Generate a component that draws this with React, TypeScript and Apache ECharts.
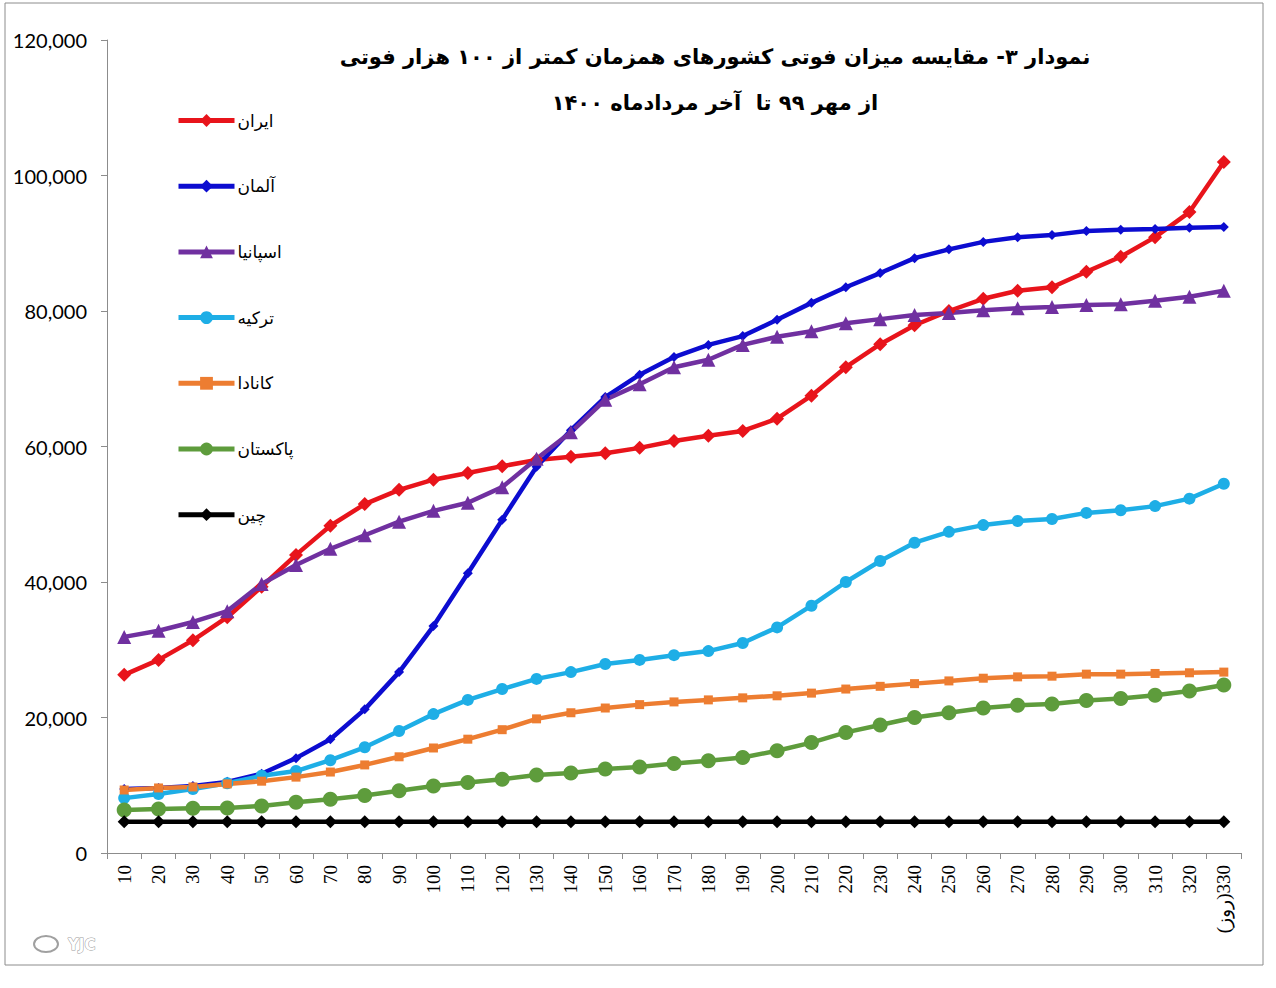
import React, { useEffect, useRef } from "react";
import * as echarts from "echarts";

const days = ["10","20","30","40","50","60","70","80","90","100","110","120","130","140","150","160","170","180","190","200","210","220","230","240","250","260","270","280","290","300","310","320","330"];

const iran = [26300,28500,31400,34800,39300,44000,48300,51500,53600,55100,56100,57100,58000,58500,59000,59800,60800,61600,62300,64100,67500,71700,75100,77900,80000,81800,83000,83500,85800,88000,90900,94600,102000];
const germany = [9450,9600,9900,10500,11700,14000,16800,21200,26700,33500,41300,49200,57000,62400,67300,70600,73200,75000,76300,78700,81200,83500,85600,87800,89100,90200,90900,91200,91800,92000,92100,92300,92400];
const spain = [31900,32800,34100,35700,39700,42500,44900,46900,48900,50500,51700,54000,58200,62100,66900,69200,71700,72800,75000,76200,77000,78200,78800,79400,79700,80100,80400,80600,80900,81000,81500,82100,83000];
const turkey = [8100,8700,9450,10300,11400,12100,13700,15600,18000,20500,22600,24200,25700,26700,27900,28500,29200,29800,31000,33300,36500,40000,43100,45800,47400,48400,49000,49300,50200,50600,51200,52300,54500];
const canada = [9300,9600,9750,10200,10600,11200,11950,13000,14200,15500,16800,18200,19800,20700,21400,21900,22300,22600,22900,23200,23600,24200,24600,25000,25400,25800,26000,26100,26400,26400,26500,26600,26700];
const pakistan = [6350,6500,6600,6650,6950,7500,7950,8500,9200,9900,10400,10900,11500,11800,12400,12700,13200,13600,14100,15100,16300,17800,18900,20000,20700,21400,21800,22000,22500,22800,23300,23900,24800];
const china = [4600,4600,4600,4600,4600,4600,4600,4600,4600,4600,4600,4600,4600,4600,4600,4600,4600,4600,4600,4600,4600,4600,4600,4600,4600,4600,4600,4600,4600,4600,4600,4600,4600];

const titleLines = ["نمودار ۳- مقایسه میزان فوتی کشورهای همزمان کمتر از ۱۰۰ هزار فوتی", "از مهر ۹۹ تا  آخر مردادماه ۱۴۰۰"];
const unitLabel = "(روز)";

const seriesDefs = [
  { name: "ایران", data: iran, color: "#e8141b", symbol: "diamond", size: 14 },
  { name: "آلمان", data: germany, color: "#0c0cd0", symbol: "diamond", size: 10 },
  { name: "اسپانیا", data: spain, color: "#7030a0", symbol: "triangle", size: 14 },
  { name: "ترکیه", data: turkey, color: "#1eaee6", symbol: "circle", size: 12 },
  { name: "کانادا", data: canada, color: "#ed7d31", symbol: "rect", size: 9 },
  { name: "پاکستان", data: pakistan, color: "#5e9c3c", symbol: "circle", size: 15 },
  { name: "چین", data: china, color: "#000000", symbol: "diamond", size: 13 },
];

export default function App() {
  const ref = useRef<HTMLDivElement>(null);
  useEffect(() => {
    if (!ref.current) return;
    const chart = echarts.init(ref.current, null, { renderer: "svg" });
    const lastIdx = days.length - 1;
    chart.setOption({
      animation: false,
      backgroundColor: "#ffffff",
      title: {
        text: titleLines.join("\n"),
        left: 710,
        top: 29,
        textAlign: "center",
        textStyle: {
          fontFamily: "DejaVu Sans",
          fontWeight: "bold",
          fontSize: 21,
          lineHeight: 46,
          color: "#000",
        },
      },
      legend: {
        orient: "vertical",
        left: 176,
        top: 112,
        padding: 0,
        itemWidth: 56,
        itemHeight: 16,
        itemGap: 48.7,
        lineStyle: { width: 5 },
        textStyle: { fontFamily: "DejaVu Sans", fontSize: 17, color: "#000", padding: [0, 0, 0, -2] },
        data: seriesDefs.map((s) => s.name),
      },
      grid: { left: 107, right: 35, top: 40, bottom: 135, containLabel: false },
      xAxis: {
        type: "category",
        data: days,
        boundaryGap: true,
        axisLine: { lineStyle: { color: "#8c8c8c", width: 1 } },
        axisTick: { show: true, alignWithLabel: false, length: 6, lineStyle: { color: "#8c8c8c" } },
        axisLabel: {
          rotate: 90,
          interval: 0,
          margin: 12,
          fontFamily: "Liberation Serif",
          fontSize: 19,
          color: "#000",
          formatter: (v: string, i: number) => (i === lastIdx ? "\u200E" + unitLabel + "\u200E" + v : v),
        },
        splitLine: { show: false },
      },
      yAxis: {
        type: "value",
        min: 0,
        max: 120000,
        interval: 20000,
        axisLine: { show: true, lineStyle: { color: "#8c8c8c", width: 1 } },
        axisTick: { show: true, length: 6, lineStyle: { color: "#8c8c8c" } },
        axisLabel: {
          fontFamily: "Lato",
          fontSize: 20,
          color: "#000",
          margin: 20,
          formatter: (v: number) => v.toLocaleString("en-US"),
        },
        splitLine: { show: false },
      },
      graphic: [
        {
          type: "rect",
          shape: { x: 5, y: 3, width: 1258, height: 962 },
          style: { fill: "none", stroke: "#8c8c8c", lineWidth: 1 },
          silent: true,
          z: -10,
        },
        {
          type: "text",
          x: 68,
          y: 937,
          style: {
            text: "YJC",
            fontFamily: "DejaVu Sans",
            fontWeight: "bold",
            fontSize: 15,
            fill: "#ffffff",
            stroke: "#9a9a9a",
            lineWidth: 1,
          },
        },
        {
          type: "ellipse",
          shape: { cx: 46, cy: 944, rx: 12, ry: 8 },
          style: { fill: "none", stroke: "#a0a0a0", lineWidth: 2 },
        },
      ],
      series: seriesDefs.map((s) => ({
        name: s.name,
        type: "line",
        data: s.data,
        symbol: s.symbol,
        symbolSize: s.size,
        showSymbol: true,
        lineStyle: { color: s.color, width: 4.5 },
        itemStyle: { color: s.color },
        emphasis: { disabled: true },
      })),
    });
    return () => chart.dispose();
  }, []);
  return <div ref={ref} style={{ position: "absolute", left: 0, top: 0, width: 1276, height: 988 }} />;
}
